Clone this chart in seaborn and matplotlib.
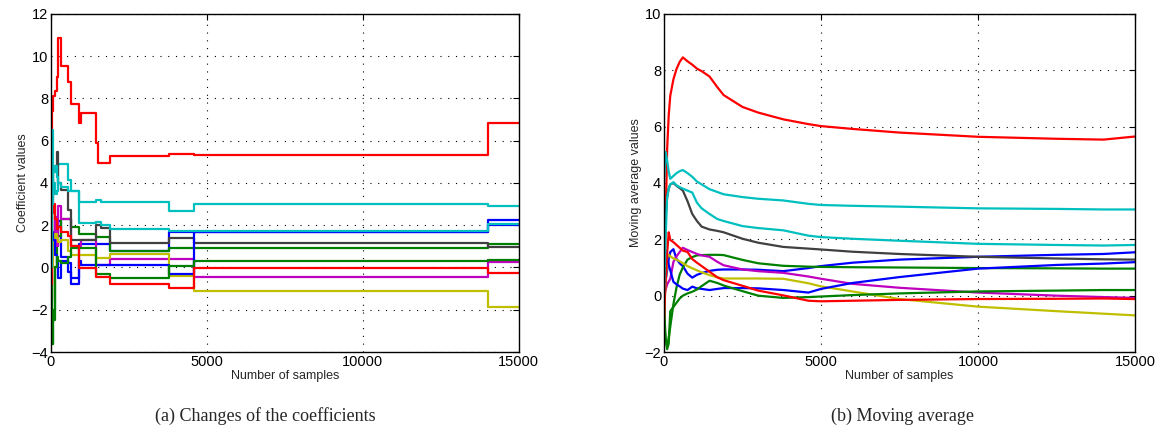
import numpy as np
import pandas as pd
import matplotlib
matplotlib.use('Agg')
import matplotlib.pyplot as plt
import seaborn as sns

# sample positions where the coefficients change (step plot, left panel)
coef_samples = [0, 40, 80, 130, 190, 240, 320, 550, 640, 900, 950, 1450, 1520, 1600, 1900, 3800, 4600, 14000, 15000]

coef_blue1 = [0.0, 0.9, 1.5, 1.8, 1.9, 2.2, 0.5, -0.2, -0.5, 1.1, 1.1, 1.1, 1.1, 1.1, 0.78, 1.70, 1.70, 2.23, 2.23]
coef_green1 = [-3.0, -3.6, -2.0, 0.0, 1.0, 1.5, 2.3, 2.3, 1.93, 1.59, 1.59, 1.46, 1.46, 1.46, 0.78, 0.91, 0.91, 1.11, 1.11]
coef_red1 = [-1.6, 7.4, 8.1, 8.35, 9.0, 10.85, 9.55, 8.8, 7.72, 6.85, 7.3, 5.91, 4.93, 4.93, 5.29, 5.37, 5.32, 6.82, 6.82]
coef_cyan1 = [5.0, 6.5, 4.0, 3.5, 3.6, 4.9, 4.88, 4.14, 3.6, 3.08, 3.08, 3.2, 3.2, 3.12, 3.12, 2.67, 3.02, 2.91, 2.91]
coef_magenta = [0.0, 0.5, 0.8, 2.4, 1.0, 2.9, 2.3, 2.3, 1.0, 1.0, 1.3, 0.1, 0.1, 0.1, 0.4, 0.4, -0.43, 0.27, 0.27]
coef_yellow = [-0.7, 0.0, 1.2, 1.6, 1.4, 1.2, 1.3, 0.8, 0.6, 0.6, 0.6, 0.45, 0.45, 0.45, 0.62, -0.39, -1.1, -1.85, -1.85]
coef_gray = [1.5, 3.0, 4.5, 4.8, 5.48, 4.0, 3.67, 2.7, 1.3, 1.3, 1.3, 2.0, 2.0, 1.85, 1.17, 1.38, 1.17, 0.99, 0.99]
coef_blue2 = [1.6, 1.7, 1.3, 0.6, 0.2, -0.5, 0.3, 0.2, -0.8, 0.3, 0.12, 0.12, 0.12, 0.12, 0.12, -0.31, 1.70, 2.03, 2.03]
coef_green2 = [-0.5, -3.6, -2.5, 0.0, 0.5, 0.3, 0.2, 0.5, 0.9, 0.9, 0.9, -0.3, -0.3, -0.3, -0.51, 0.09, 0.32, 0.34, 0.34]
coef_red2 = [-0.8, 2.6, 3.0, 2.3, 1.8, 1.9, 1.7, 1.5, 1.0, -0.04, -0.04, -0.43, -0.43, -0.43, -0.8, -0.99, -0.04, -0.25, -0.25]
coef_cyan2 = [0.0, 3.0, 4.5, 4.8, 4.3, 4.0, 3.8, 3.6, 3.6, 2.09, 2.09, 2.14, 2.14, 2.0, 1.82, 1.72, 1.72, 2.08, 2.08]

# moving average curves (right panel)
ma_samples = [0, 50, 100, 150, 200, 300, 400, 500, 600, 750, 900, 1050, 1200, 1450, 1700, 1900,
              2500, 3000, 3800, 4600, 5000, 6000, 7500, 10000, 12500, 14000, 15000]

ma_blue1 = [0.0, 0.5, 0.9, 1.3, 1.55, 1.65, 1.3, 1.15, 1.05, 0.78, 0.64, 0.74, 0.8, 0.88, 0.92, 0.93,
            0.93, 0.92, 0.87, 0.98, 1.05, 1.17, 1.28, 1.38, 1.45, 1.48, 1.54]
ma_green1 = [-0.9, -1.5, -1.82, -1.5, -1.1, -0.3, 0.3, 0.75, 1.0, 1.28, 1.37, 1.43, 1.44, 1.45, 1.45, 1.44,
             1.27, 1.15, 1.06, 1.03, 1.02, 1.01, 1.0, 0.98, 0.97, 0.96, 0.96]
ma_red1 = [-1.6, 2.5, 5.2, 6.4, 7.1, 7.68, 8.05, 8.3, 8.46, 8.32, 8.2, 8.06, 7.97, 7.78, 7.4, 7.12,
           6.7, 6.5, 6.26, 6.09, 6.02, 5.92, 5.79, 5.64, 5.57, 5.54, 5.65]
ma_cyan1 = [4.0, 5.1, 4.8, 4.4, 4.15, 4.25, 4.35, 4.42, 4.46, 4.35, 4.22, 4.05, 3.95, 3.78, 3.68, 3.6,
            3.5, 3.44, 3.38, 3.26, 3.22, 3.19, 3.16, 3.1, 3.08, 3.06, 3.06]
ma_magenta = [0.0, 0.2, 0.4, 0.5, 0.6, 1.2, 1.4, 1.55, 1.7, 1.62, 1.55, 1.48, 1.43, 1.38, 1.2, 1.08,
              0.93, 0.87, 0.81, 0.68, 0.6, 0.42, 0.28, 0.11, 0.0, -0.05, -0.08]
ma_yellow = [-0.7, 0.5, 1.2, 1.45, 1.4, 1.32, 1.28, 1.22, 1.15, 1.05, 0.97, 0.9, 0.83, 0.73, 0.65, 0.61,
             0.61, 0.61, 0.6, 0.44, 0.33, 0.15, -0.12, -0.39, -0.55, -0.64, -0.7]
ma_gray = [1.5, 2.8, 3.5, 3.8, 3.95, 4.0, 3.9, 3.82, 3.73, 3.35, 2.9, 2.65, 2.45, 2.35, 2.3, 2.25,
           2.02, 1.88, 1.73, 1.67, 1.64, 1.56, 1.48, 1.38, 1.32, 1.29, 1.28]
ma_blue2 = [1.0, 1.6, 1.4, 1.1, 0.9, 0.49, 0.4, 0.33, 0.25, 0.2, 0.32, 0.26, 0.24, 0.2, 0.24, 0.27,
            0.27, 0.26, 0.2, 0.11, 0.24, 0.45, 0.66, 0.96, 1.09, 1.14, 1.19]
ma_green2 = [-0.3, -1.5, -1.9, -1.7, -0.55, -0.4, -0.25, -0.1, 0.0, 0.08, 0.14, 0.22, 0.34, 0.53, 0.45, 0.36,
             0.16, 0.0, -0.08, -0.05, -0.03, 0.02, 0.08, 0.15, 0.18, 0.2, 0.2]
ma_red2 = [-0.8, 0.5, 1.5, 2.25, 1.98, 1.9, 1.8, 1.7, 1.6, 1.55, 1.3, 1.17, 1.05, 0.85, 0.65, 0.55,
           0.35, 0.18, 0.01, -0.18, -0.2, -0.18, -0.15, -0.12, -0.11, -0.1, -0.12]
ma_cyan2 = [0.0, 2.0, 3.5, 3.8, 3.95, 4.03, 3.92, 3.85, 3.8, 3.73, 3.66, 3.3, 3.1, 2.9, 2.72, 2.65,
            2.47, 2.4, 2.32, 2.13, 2.08, 2.02, 1.95, 1.84, 1.8, 1.78, 1.8]

names = ['blue1', 'green1', 'red1', 'cyan1', 'magenta', 'yellow', 'gray',
         'blue2', 'green2', 'red2', 'cyan2']
colors = ['#0000ff', '#008000', '#ff0000', '#00bfbf', '#bf00bf', '#bfbf00', '#404040',
          '#0000ff', '#008000', '#ff0000', '#00bfbf']
coef_list = [coef_blue1, coef_green1, coef_red1, coef_cyan1, coef_magenta, coef_yellow, coef_gray,
             coef_blue2, coef_green2, coef_red2, coef_cyan2]
ma_list = [ma_blue1, ma_green1, ma_red1, ma_cyan1, ma_magenta, ma_yellow, ma_gray,
           ma_blue2, ma_green2, ma_red2, ma_cyan2]

coef_df = pd.concat([pd.DataFrame({'sample': coef_samples, 'value': v, 'series': n})
                     for n, v in zip(names, coef_list)], ignore_index=True)
ma_df = pd.concat([pd.DataFrame({'sample': ma_samples, 'value': v, 'series': n})
                   for n, v in zip(names, ma_list)], ignore_index=True)
palette = dict(zip(names, colors))

sns.set_style('white')
plt.rcParams['font.family'] = ['Liberation Sans', 'DejaVu Sans']

fig = plt.figure(figsize=(11.58, 4.37), dpi=100)
ax1 = fig.add_axes([0.044, 0.1945, 0.404, 0.7735])
ax2 = fig.add_axes([0.5734, 0.1945, 0.4067, 0.7735])

sns.lineplot(data=coef_df, x='sample', y='value', hue='series', palette=palette,
             estimator=None, sort=False, drawstyle='steps-post', linewidth=1.6,
             legend=False, ax=ax1)
sns.lineplot(data=ma_df, x='sample', y='value', hue='series', palette=palette,
             estimator=None, sort=False, linewidth=1.6, legend=False, ax=ax2)

for ax, ylim, yticks, ylab in [(ax1, (-4, 12), range(-4, 13, 2), 'Coefficient values'),
                               (ax2, (-2, 10), range(-2, 11, 2), 'Moving average values')]:
    ax.set_xlim(0, 15000)
    ax.set_ylim(*ylim)
    ax.set_xticks([0, 5000, 10000, 15000])
    ax.set_xticklabels(['0', '5000', '10000', '15000'])
    ax.set_yticks(list(yticks))
    ax.grid(True, color='black', linestyle=(0, (1, 6)), linewidth=0.8)
    ax.tick_params(direction='in', top=True, right=True, length=4, labelsize=10.5, pad=2,
                   color='black', labelcolor='black')
    for s in ax.spines.values():
        s.set_color('black')
        s.set_linewidth(1.0)
    ax.set_xlabel('Number of samples', fontsize=9, labelpad=1)
    ax.set_ylabel(ylab, fontsize=9, labelpad=2)

fig.text(0.229, 0.027, '(a) Changes of the coefficients', ha='center', va='bottom',
         fontsize=13, family=['Liberation Serif', 'DejaVu Serif'])
fig.text(0.779, 0.027, '(b) Moving average', ha='center', va='bottom',
         fontsize=13, family=['Liberation Serif', 'DejaVu Serif'])

fig.savefig('out.png', dpi=100)
